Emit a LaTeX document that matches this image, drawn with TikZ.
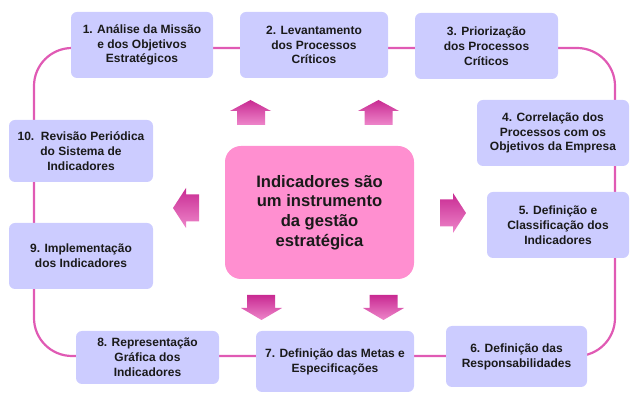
\documentclass[tikz,border=0pt]{standalone}
\usepackage{fontspec}
\setmainfont{Liberation Sans}
\definecolor{boxfill}{HTML}{CCCCFF}
\definecolor{centerfill}{HTML}{FF8FD0}
\definecolor{loopcol}{HTML}{E05AB4}
\definecolor{arrdark}{HTML}{C82A92}
\definecolor{arrlight}{HTML}{EE86CA}
\definecolor{txt}{HTML}{1A1A1A}
\begin{document}
\begin{tikzpicture}[x=1pt,y=-1pt,
  stepbox/.style={fill=boxfill, rounded corners=6pt, align=center, text=txt,
    font=\bfseries\fontsize{12}{14.8}\selectfont, inner sep=0pt},
  centerbox/.style={fill=centerfill, rounded corners=16pt, align=center, text=txt,
    font=\bfseries\fontsize{16.6}{19.8}\selectfont, inner sep=0pt},
  loopline/.style={draw=loopcol, line width=2.2pt, rounded corners=38pt},
  blockarrow/.style={top color=arrdark, bottom color=arrlight, draw=none}]
\useasboundingbox (0,0) rectangle (641,403);
% loop
\draw[loopline] (34,48) rectangle (615,356);
% boxes
\node[stepbox, minimum width=142pt, minimum height=66pt] (b1) at (142,45) {1. Análise da Missão\\e dos Objetivos\\Estratégicos};
\node[stepbox, minimum width=148pt, minimum height=66pt] (b2) at (314,45) {2. Levantamento\\dos Processos\\Críticos};
\node[stepbox, minimum width=143pt, minimum height=66pt] (b3) at (486.5,46) {3. Priorização\\dos Processos\\Críticos};
\node[stepbox, minimum width=152pt, minimum height=66pt] (b4) at (553,133) {4. Correlação dos\\Processos com os\\Objetivos da Empresa};
\node[stepbox, minimum width=142pt, minimum height=66pt] (b5) at (558,225) {5. Definição e\\Classificação dos\\Indicadores};
\node[stepbox, minimum width=141pt, minimum height=61pt] (b6) at (516.5,356.5) {6. Definição das\\Responsabilidades};
\node[stepbox, minimum width=158pt, minimum height=61pt] (b7) at (335,361.5) {7. Definição das Metas e\\Especificações};
\node[stepbox, minimum width=143pt, minimum height=53pt] (b8) at (147.5,357.5) {8. Representação\\Gráfica dos\\Indicadores};
\node[stepbox, minimum width=144pt, minimum height=66pt] (b9) at (81,256) {9. Implementação\\dos Indicadores};
\node[stepbox, minimum width=144pt, minimum height=62pt] (b10) at (81,151) {10.\ \ Revisão Periódica\\do Sistema de\\Indicadores};
% center
\node[centerbox, minimum width=189pt, minimum height=133pt] (c) at (319.5,212.5) {Indicadores são\\um instrumento\\da gestão\\estratégica};
% block arrows: up
\shade[blockarrow] (250.5,100) -- (271,111) -- (265,111) -- (265,125) -- (237,125) -- (237,111) -- (230,111) -- cycle;
\shade[blockarrow] (378.5,100) -- (399,111) -- (392.5,111) -- (392.5,125) -- (364.5,125) -- (364.5,111) -- (358,111) -- cycle;
% down
\shade[blockarrow] (247,295) -- (275,295) -- (275,308) -- (282,308) -- (261.5,320) -- (241,308) -- (247,308) -- cycle;
\shade[blockarrow] (369.5,295) -- (397.5,295) -- (397.5,308) -- (404,308) -- (383.5,320) -- (363,308) -- (369.5,308) -- cycle;
% left
\shade[blockarrow] (173,208) -- (186,188) -- (186,194.5) -- (199,194.5) -- (199,221.5) -- (186,221.5) -- (186,228) -- cycle;
% right
\shade[blockarrow] (466,213) -- (453,193) -- (453,199.5) -- (440,199.5) -- (440,226.5) -- (453,226.5) -- (453,233) -- cycle;
\end{tikzpicture}
\end{document}
